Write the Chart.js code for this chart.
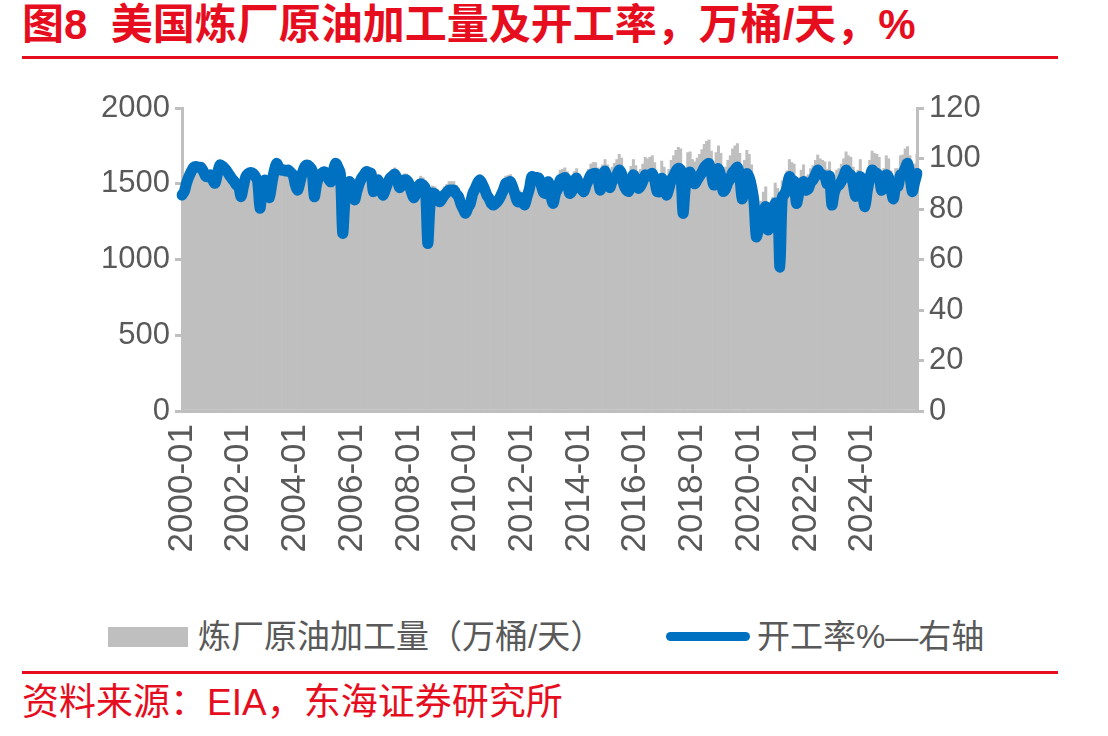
<!DOCTYPE html>
<html>
<head>
<meta charset="utf-8">
<script src="https://cdn.jsdelivr.net/npm/chart.js@4.4.1/dist/chart.umd.min.js"></script>
<style>
	body { margin: 0; width: 1108px; height: 736px; background: #fff; position: relative; overflow: hidden;
		font-family: "Liberation Sans", "Noto Sans CJK SC", sans-serif; }
	.title { position: absolute; left: 22px; top: 0; line-height: 50px; color: #E60E1E; font-size: 42px; font-weight: bold; white-space: nowrap; }
	.rule { position: absolute; left: 22px; width: 1036px; height: 3px; background: #E60E1E; }
	.wrap { position: absolute; left: 0; top: 80px; width: 1108px; height: 510px; }
	.legend { position: absolute; top: 617px; line-height: 40px; font-size: 33px; color: #595959; white-space: nowrap; }
	.box { position: absolute; left: 108px; top: 627px; width: 80px; height: 20px; background: #BFBFBF; }
	.bline { position: absolute; left: 666px; top: 632px; width: 84px; height: 9px; border-radius: 5px; background: #0070C0; }
	.source { position: absolute; left: 22px; top: 683px; line-height: 40px; color: #E60E1E; font-size: 37px; white-space: nowrap; }
</style>
</head>
<body>
<div class="title">图8&nbsp; 美国炼厂原油加工量及开工率，万桶/天，%</div>
<div class="rule" style="top:56px"></div>
<div class="wrap"><canvas id="plot"></canvas></div>
<div class="box"></div>
<div class="legend" style="left:198px">炼厂原油加工量（万桶/天）</div>
<div class="bline"></div>
<div class="legend" style="left:757px">开工率%—右轴</div>
<div class="rule" style="top:671px"></div>
<div class="source">资料来源：EIA，东海证券研究所</div>
<script>
// monthly, 2000-01 .. 2025-12
const years = [2000, 2001, 2002, 2003, 2004, 2005, 2006, 2007, 2008, 2009, 2010, 2011, 2012,
	2013, 2014, 2015, 2016, 2017, 2018, 2019, 2020, 2021, 2022, 2023, 2024, 2025];
const months = ['01', '02', '03', '04', '05', '06', '07', '08', '09', '10', '11', '12'];
const tickLabels = ['2000-01', '2002-01', '2004-01', '2006-01', '2008-01', '2010-01', '2012-01',
	'2014-01', '2016-01', '2018-01', '2020-01', '2022-01', '2024-01'];

// 炼厂原油加工量, 万桶/天
const crudeRuns = [
	1395, 1420, 1475, 1515, 1550, 1575, 1580, 1575, 1575, 1550, 1515, 1515,
	1530, 1495, 1475, 1535, 1590, 1585, 1570, 1555, 1530, 1505, 1490, 1465,
	1465, 1400, 1470, 1530, 1550, 1560, 1555, 1535, 1500, 1325, 1450, 1510,
	1450, 1395, 1485, 1565, 1615, 1590, 1575, 1575, 1565, 1575, 1560, 1545,
	1490, 1455, 1515, 1575, 1610, 1620, 1610, 1590, 1415, 1500, 1545, 1565,
	1595, 1580, 1545, 1525, 1595, 1650, 1620, 1580, 1185, 1410, 1515, 1525,
	1495, 1420, 1480, 1530, 1565, 1590, 1610, 1605, 1600, 1475, 1520, 1555,
	1505, 1460, 1495, 1540, 1575, 1590, 1605, 1575, 1515, 1530, 1565, 1565,
	1550, 1495, 1455, 1480, 1530, 1550, 1540, 1520, 1140, 1410, 1485, 1480,
	1460, 1435, 1455, 1480, 1495, 1515, 1515, 1515, 1490, 1470, 1420, 1385,
	1335, 1375, 1400, 1465, 1500, 1540, 1560, 1535, 1500, 1460, 1430, 1400,
	1405, 1420, 1440, 1470, 1505, 1550, 1555, 1560, 1520, 1470, 1425, 1455,
	1430, 1385, 1445, 1495, 1580, 1575, 1575, 1565, 1520, 1470, 1465, 1545,
	1490, 1425, 1490, 1525, 1590, 1595, 1605, 1580, 1495, 1510, 1580, 1600,
	1555, 1535, 1515, 1560, 1595, 1630, 1640, 1640, 1605, 1525, 1625, 1660,
	1625, 1570, 1610, 1635, 1660, 1695, 1670, 1590, 1555, 1545, 1615, 1660,
	1620, 1580, 1595, 1630, 1675, 1665, 1675, 1685, 1640, 1555, 1555, 1650,
	1610, 1550, 1595, 1655, 1685, 1720, 1740, 1730, 1415, 1610, 1705, 1710,
	1660, 1645, 1670, 1695, 1725, 1760, 1780, 1790, 1715, 1635, 1705, 1750,
	1700, 1590, 1610, 1655, 1685, 1730, 1750, 1765, 1700, 1535, 1655, 1720,
	1695, 1625, 1520, 1265, 1320, 1385, 1445, 1480, 1310, 1375, 1410, 1505,
	1470, 1020, 1520, 1540, 1585, 1660, 1640, 1630, 1470, 1540, 1590, 1625,
	1550, 1560, 1600, 1620, 1655, 1690, 1665, 1655, 1645, 1595, 1645, 1445,
	1550, 1590, 1600, 1630, 1665, 1710, 1685, 1675, 1610, 1520, 1590, 1660,
	1550, 1455, 1575, 1655, 1715, 1700, 1695, 1675, 1575, 1600, 1685, 1665,
	1585, 1510, 1600, 1600, 1685, 1690, 1730, 1745, 1685, 1565, 1630, 1695
];

// 开工率, %
const utilization = [
	85.5, 87.0, 90.5, 93.0, 95.0, 96.5, 96.8, 96.5, 96.5, 95.0, 93.0, 92.8,
	93.5, 91.5, 90.2, 94.0, 97.4, 97.0, 96.1, 95.0, 93.5, 92.2, 91.0, 89.5,
	88.8, 84.9, 89.0, 92.8, 94.0, 94.5, 94.1, 93.0, 91.0, 80.3, 88.0, 91.5,
	88.0, 84.5, 90.0, 95.0, 98.0, 96.5, 95.4, 95.5, 95.0, 95.4, 94.5, 93.5,
	89.5, 87.5, 91.0, 94.5, 96.8, 97.4, 96.8, 95.5, 84.9, 90.0, 92.8, 94.0,
	94.8, 94.1, 92.0, 90.8, 95.0, 98.1, 96.5, 94.1, 70.4, 84.0, 90.2, 90.8,
	88.0, 83.6, 87.0, 90.0, 92.2, 93.5, 94.8, 94.5, 94.1, 86.9, 89.5, 91.5,
	88.0, 85.5, 87.5, 90.2, 92.2, 93.0, 93.8, 92.0, 88.5, 89.5, 91.5, 91.5,
	90.2, 87.0, 84.5, 86.0, 89.0, 90.0, 89.5, 88.3, 66.4, 82.0, 86.2, 86.0,
	84.5, 82.9, 84.0, 85.5, 86.5, 87.5, 87.5, 87.5, 86.0, 84.9, 82.0, 80.0,
	78.3, 80.5, 82.2, 86.0, 88.0, 90.2, 91.5, 90.0, 88.0, 85.5, 84.0, 82.0,
	81.6, 82.5, 83.6, 85.5, 87.5, 90.2, 90.5, 90.8, 88.5, 85.5, 82.9, 84.5,
	84.0, 81.6, 85.0, 88.0, 92.8, 92.5, 92.5, 92.2, 89.5, 86.5, 86.2, 90.8,
	86.0, 82.2, 86.0, 88.0, 91.5, 92.0, 92.5, 91.0, 86.2, 87.0, 91.0, 92.2,
	89.0, 88.0, 86.9, 89.5, 91.5, 93.5, 94.0, 94.1, 92.0, 87.5, 93.0, 95.0,
	91.5, 88.5, 90.8, 92.0, 93.5, 95.4, 94.0, 89.5, 87.5, 87.0, 91.0, 93.5,
	90.5, 88.2, 89.0, 91.0, 93.5, 93.0, 93.5, 94.1, 91.5, 87.0, 86.9, 92.2,
	89.0, 85.5, 88.0, 91.5, 93.0, 95.0, 96.1, 95.5, 78.3, 89.0, 94.1, 94.5,
	91.0, 90.0, 91.5, 93.0, 94.5, 96.5, 97.5, 98.0, 94.0, 89.5, 93.5, 96.0,
	93.0, 87.0, 88.0, 90.5, 92.0, 94.5, 95.5, 96.5, 93.0, 84.0, 90.5, 94.0,
	92.5, 88.8, 83.0, 69.0, 72.0, 75.6, 79.0, 80.9, 71.7, 75.0, 77.0, 82.2,
	82.0, 57.0, 84.9, 86.0, 88.5, 92.8, 91.5, 91.0, 82.2, 86.0, 88.8, 90.8,
	87.5, 88.0, 90.5, 91.5, 93.5, 95.4, 94.0, 93.5, 93.0, 90.0, 93.0, 81.6,
	86.5, 88.8, 89.5, 91.0, 93.0, 95.4, 94.0, 93.5, 90.0, 85.0, 88.8, 92.8,
	86.0, 80.9, 87.5, 92.0, 95.4, 94.5, 94.1, 93.0, 87.5, 89.0, 93.5, 92.5,
	88.0, 84.0, 88.8, 89.0, 93.5, 94.0, 96.1, 98.1, 93.5, 86.9, 90.5, 94.1
];

const labels = [];
years.forEach(y => months.forEach(m => labels.push(y + '-' + m)));

const axisGray = '#BFBFBF';
const textGray = '#595959';
const yFont = { family: '"Liberation Sans", Arial, sans-serif', size: 31 };
const xFont = { family: '"Liberation Sans", Arial, sans-serif', size: 35 };

const plot = new Chart(document.getElementById('plot').getContext('2d'), {
	type: 'bar',
	data: {
		labels: labels,
		datasets: [{
			type: 'line',
			label: '开工率%—右轴',
			data: utilization,
			yAxisID: 'y1',
			borderColor: '#0070C0',
			borderWidth: 11,
			borderJoinStyle: 'round',
			borderCapStyle: 'round',
			pointRadius: 0,
			tension: 0.3,
			fill: false,
			order: 0
		}, {
			label: '炼厂原油加工量（万桶/天）',
			data: crudeRuns,
			yAxisID: 'y',
			backgroundColor: axisGray,
			borderWidth: 0,
			barPercentage: 1,
			categoryPercentage: 1,
			order: 1
		}]
	},
	options: {
		responsive: true,
		maintainAspectRatio: false,
		animation: false,
		layout: {
			padding: { left: 0, right: 0, top: 28, bottom: 0 }
		},
		plugins: {
			legend: { display: false },
			tooltip: { enabled: false }
		},
		scales: {
			x: {
				type: 'category',
				offset: false,
				afterFit: s => { s.height = 179; },
				border: { color: axisGray, width: 3 },
				grid: {
					drawOnChartArea: false,
					tickLength: 7,
					lineWidth: 3,
					color: ctx => (tickLabels.includes(labels[ctx.index]) ? axisGray : 'rgba(0,0,0,0)')
				},
				ticks: {
					autoSkip: false,
					maxRotation: 90,
					minRotation: 90,
					padding: 6,
					color: textGray,
					font: xFont,
					callback: function (value) {
						const lab = this.getLabelForValue(value);
						return tickLabels.includes(lab) ? lab : null;
					}
				}
			},
			y: {
				position: 'left',
				min: 0,
				max: 2000,
				afterFit: s => { s.width = 182; },
				border: { color: axisGray, width: 3 },
				grid: { drawOnChartArea: false, tickLength: 7, lineWidth: 3, color: axisGray },
				ticks: { stepSize: 500, padding: 5, color: textGray, font: yFont, callback: v => String(v) }
			},
			y1: {
				position: 'right',
				min: 0,
				max: 120,
				afterFit: s => { s.width = 191; },
				border: { color: axisGray, width: 3 },
				grid: { drawOnChartArea: false, tickLength: 7, lineWidth: 3, color: axisGray },
				ticks: { stepSize: 20, padding: 5, color: textGray, font: yFont, callback: v => String(v) }
			}
		}
	}
});
</script>
</body>
</html>
